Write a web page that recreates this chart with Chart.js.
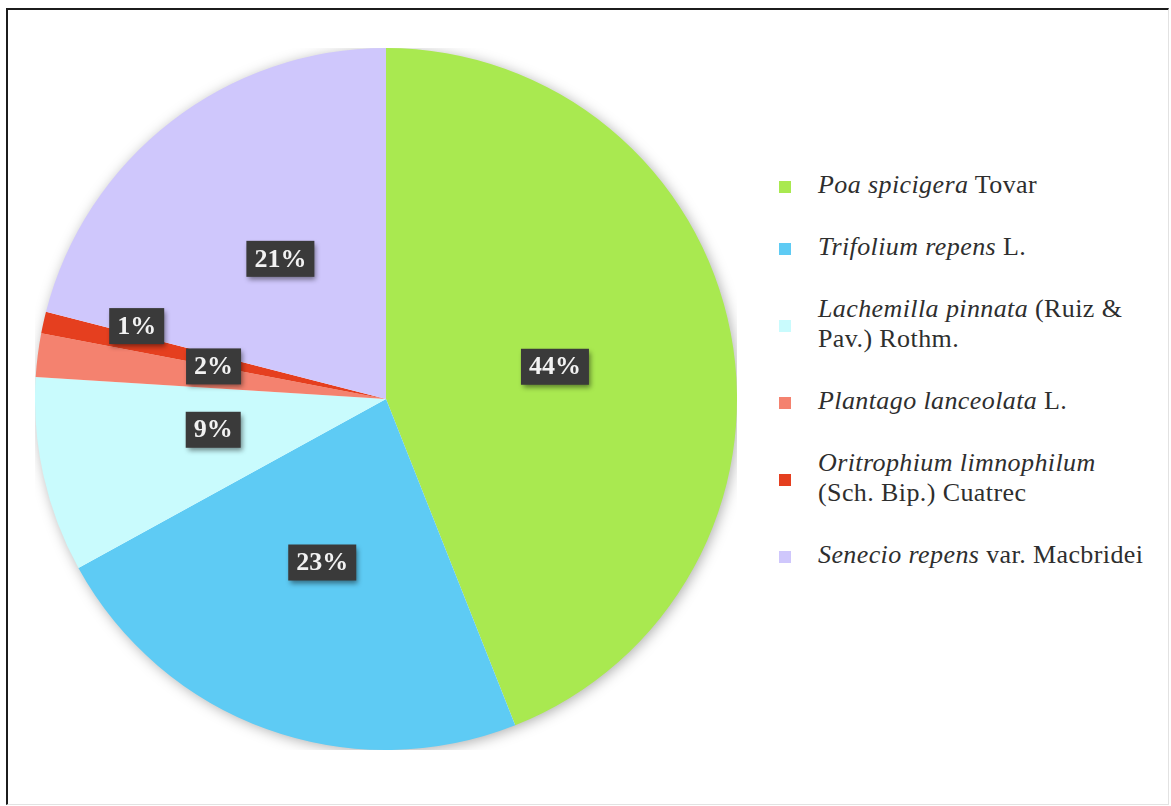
<!DOCTYPE html>
<html>
<head>
<meta charset="utf-8">
<script src="https://cdn.jsdelivr.net/npm/chart.js@4/dist/chart.umd.min.js"></script>
<style>
  html, body { margin: 0; padding: 0; background: #fff; }
  body { width: 1171px; height: 806px; position: relative; overflow: hidden; }
  #frame {
    position: absolute; left: 6px; top: 8px; width: 1160px; height: 794px;
    border-left: 2px solid #1c1c1c; border-top: 2px solid #1c1c1c;
    border-right: 1px solid #e2e2e2; border-bottom: 1px solid #e2e2e2;
  }
  #pieBox { position: absolute; left: 35px; top: 48px; width: 702px; height: 702px; }
  #legend {
    position: absolute; left: 777px; top: 170px; width: 375px;
    display: flex; flex-direction: column; gap: 32px;
    font-family: "Liberation Serif", "Times New Roman", serif;
    font-size: 26px; line-height: 30px; color: #2e2e2e; letter-spacing: 0.4px;
  }
  .item { position: relative; padding-left: 41px; }
  .swatch { position: absolute; left: 2px; top: 50%; width: 12px; height: 12px; margin-top: -4px; }
</style>
</head>
<body>
<div id="frame"></div>
<div id="pieBox"><canvas id="coverChart"></canvas></div>
<div id="legend"></div>

<script>
// Species share of plant cover (%)
const species = ["Poa spicigera", "Trifolium repens", "Lachemilla pinnata", "Plantago lanceolata", "Oritrophium limnophilum", "Senecio repens"];
const authors = ["Tovar", "L.", "(Ruiz & Pav.) Rothm.", "L.", "(Sch.\u00a0Bip.) Cuatrec", "var. Macbridei"];
const shares = [44, 23, 9, 2, 1, 21];
const sliceColors = ["#a9e950", "#5ecbf4", "#c9fbfd", "#f4826f", "#e53f1f", "#cfc7fc"];

// where each percentage box sits: fraction of radius, and angle nudge in degrees
const labelRadius = [0.49, 0.5, 0.5, 0.5, 0.74, 0.5];
const labelNudge = [0, 1.5, 2.5, 3.5, 3.7, 0.8];

// soft shadow under the whole pie
const pieShadow = {
  id: "pieShadow",
  beforeDatasetsDraw(chart) {
    const arc = chart.getDatasetMeta(0).data[0];
    if (!arc) return;
    const { x, y, outerRadius } = arc.getProps(["x", "y", "outerRadius"], true);
    const c = chart.ctx;
    c.save();
    c.shadowColor = "rgba(0,0,0,0.35)";
    c.shadowBlur = 14;
    c.shadowOffsetX = 2;
    c.shadowOffsetY = 2;
    c.fillStyle = "#fff";
    c.beginPath();
    c.arc(x, y, outerRadius - 1, 0, Math.PI * 2);
    c.fill();
    c.restore();
  }
};

// dark boxes with the percentage of every slice
const percentBoxes = {
  id: "percentBoxes",
  afterDatasetsDraw(chart) {
    const c = chart.ctx;
    const meta = chart.getDatasetMeta(0);
    c.save();
    c.font = "bold 26px 'Liberation Serif', 'Times New Roman', serif";
    c.textAlign = "center";
    c.textBaseline = "middle";
    meta.data.forEach((arc, i) => {
      const p = arc.getProps(["x", "y", "startAngle", "endAngle", "outerRadius"], true);
      const mid = (p.startAngle + p.endAngle) / 2 + labelNudge[i] * Math.PI / 180;
      const r = p.outerRadius * labelRadius[i];
      const lx = p.x + Math.cos(mid) * r;
      const ly = p.y + Math.sin(mid) * r;
      const text = shares[i] + "%";
      const w = c.measureText(text).width + 16;
      const h = 36;
      c.shadowColor = "rgba(0,0,0,0.45)";
      c.shadowBlur = 5;
      c.shadowOffsetX = 2;
      c.shadowOffsetY = 3;
      c.fillStyle = "#3a3a3a";
      c.fillRect(lx - w / 2, ly - h / 2, w, h);
      c.shadowColor = "transparent";
      c.fillStyle = "#f2f2f2";
      c.fillText(text, lx, ly + 1);
    });
    c.restore();
  }
};

new Chart(document.getElementById("coverChart"), {
  type: "pie",
  data: {
    labels: species.map((s, i) => s + " " + authors[i]),
    datasets: [{
      data: shares,
      backgroundColor: sliceColors,
      borderWidth: 0
    }]
  },
  options: {
    responsive: true,
    maintainAspectRatio: false,
    animation: false,
    layout: { padding: 0 },
    plugins: {
      legend: { display: false },
      tooltip: { enabled: false }
    }
  },
  plugins: [pieShadow, percentBoxes]
});

// legend on the right, genus and species in italics
const legend = document.getElementById("legend");
species.forEach((name, i) => {
  const item = document.createElement("div");
  item.className = "item";
  const sw = document.createElement("span");
  sw.className = "swatch";
  sw.style.background = sliceColors[i];
  const it = document.createElement("i");
  it.textContent = name;
  item.appendChild(sw);
  item.appendChild(it);
  item.appendChild(document.createTextNode(" " + authors[i]));
  legend.appendChild(item);
});
</script>
</body>
</html>
